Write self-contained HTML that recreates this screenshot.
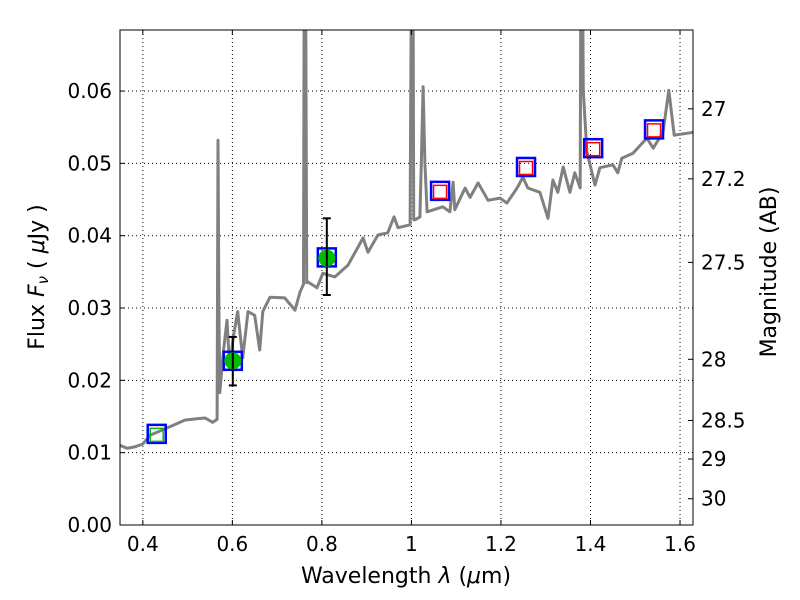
<!DOCTYPE html>
<html><head><meta charset="utf-8"><style>
body{margin:0;background:#fff;}
svg{display:block;font-family:"DejaVu Sans","Liberation Sans",sans-serif;}
</style></head><body>
<svg id="chart" width="800" height="600">
<g id="grid"></g>
<g id="spec"></g>
<g id="marks"></g>
<rect x="120" y="30" width="573" height="495" fill="none" stroke="#000" stroke-width="1"/>
<g id="axes"></g>
<text x="406" y="583" font-size="22" text-anchor="middle">Wavelength  <tspan font-style="italic">λ</tspan> (<tspan font-style="italic">μ</tspan>m)</text>
<text transform="translate(44,277) rotate(-90)" font-size="22" text-anchor="middle">Flux  <tspan font-style="italic">F<tspan font-size="15" dy="4">ν</tspan></tspan><tspan dy="-4">  (  </tspan><tspan font-style="italic">μ</tspan>Jy )</text>
<text transform="translate(776,272) rotate(-90)" font-size="22" text-anchor="middle">Magnitude (AB)</text>
</svg>
<script>
const specLam=[0.349,0.365,0.382,0.40,0.416,0.45,0.494,0.52,0.539,0.556,0.566,0.568,0.570,0.572,0.580,0.588,0.594,0.602,0.612,0.623,0.635,0.650,0.661,0.668,0.684,0.717,0.740,0.751,0.759,0.761,0.763,0.766,0.769,0.789,0.802,0.829,0.858,0.892,0.903,0.925,0.947,0.961,0.970,0.997,1.001,1.003,1.005,1.008,1.019,1.022,1.026,1.030,1.035,1.070,1.086,1.093,1.097,1.120,1.131,1.149,1.171,1.198,1.213,1.236,1.249,1.260,1.287,1.305,1.316,1.327,1.339,1.354,1.365,1.377,1.379,1.381,1.384,1.392,1.410,1.421,1.450,1.461,1.470,1.495,1.526,1.540,1.562,1.575,1.587,1.630];
const specFlux=[0.0110,0.0106,0.0108,0.0112,0.0124,0.0133,0.0145,0.0147,0.0148,0.0142,0.0146,0.0532,0.030,0.0183,0.024,0.0283,0.0217,0.0260,0.0295,0.0231,0.0295,0.0290,0.0242,0.0295,0.0315,0.0314,0.0297,0.0322,0.0333,0.09,0.09,0.0335,0.0336,0.0328,0.0348,0.0343,0.0359,0.0397,0.0377,0.0401,0.0404,0.0426,0.0411,0.0415,0.09,0.09,0.0422,0.0422,0.0426,0.050,0.0606,0.050,0.0433,0.0440,0.0433,0.0474,0.0436,0.0466,0.0453,0.0473,0.0449,0.0452,0.0445,0.0466,0.0481,0.0466,0.0460,0.0424,0.0477,0.0460,0.0495,0.0460,0.0487,0.0466,0.09,0.09,0.060,0.0516,0.0470,0.0494,0.0498,0.0487,0.0507,0.0514,0.0535,0.0521,0.0543,0.0601,0.0539,0.0543];
const photLam=[0.431,0.601,0.811,1.064,1.256,1.406,1.542];
const photFlux=[0.0126,0.0227,0.0370,0.0462,0.0495,0.0521,0.0547];
const modelIdx=[3,4,5,6];
const obsLam=[0.601,0.811];
const obsFlux=[0.0227,0.0369];
const obsLo=[0.0193,0.0318];
const obsHi=[0.0260,0.0424];
const xTicks=[0.4,0.6,0.8,1.0,1.2,1.4,1.6];
const xTickLabels=["0.4","0.6","0.8","1","1.2","1.4","1.6"];
const yTicks=[0,0.01,0.02,0.03,0.04,0.05,0.06];
const yTickLabels=["0.00","0.01","0.02","0.03","0.04","0.05","0.06"];
const magTicks=[27,27.2,27.5,28,28.5,29,30];
const magTickLabels=["27","27.2","27.5","28","28.5","29","30"];

const X0=120,X1=693,Y0=525,Y1=30,LMIN=0.349,LMAX=1.629,FMIN=0,FMAX=0.06844;
const sx=l=>X0+(l-LMIN)/(LMAX-LMIN)*(X1-X0);
const sy=f=>Y0-(f-FMIN)/(FMAX-FMIN)*(Y0-Y1);
const NS="http://www.w3.org/2000/svg";
function mk(parent,tag,attrs){const e=document.createElementNS(NS,tag);for(const k in attrs)e.setAttribute(k,attrs[k]);parent.appendChild(e);return e;}
const grid=document.getElementById('grid'),axes=document.getElementById('axes'),spec=document.getElementById('spec'),marks=document.getElementById('marks');

xTicks.forEach((t,i)=>{const x=sx(t);
 const g=mk(grid,'line',{x1:x,x2:x,y1:Y1,y2:Y0,stroke:'#000','stroke-dasharray':'1,3','stroke-width':1});
 
 
 mk(axes,'line',{x1:x,x2:x,y1:Y0,y2:Y0-5,stroke:'#000'});
 mk(axes,'line',{x1:x,x2:x,y1:Y1,y2:Y1+5,stroke:'#000'});
 const tx=mk(axes,'text',{x:x,y:Y0+26,'font-size':20,'text-anchor':'middle'});tx.textContent=xTickLabels[i];
 
 
});
yTicks.forEach((t,i)=>{const y=sy(t);
 const g=mk(grid,'line',{x1:X0,x2:X1,y1:y,y2:y,stroke:'#000','stroke-dasharray':'1,3','stroke-width':1});
 
 
 mk(axes,'line',{x1:X0,x2:X0+5,y1:y,y2:y,stroke:'#000'});
 const tx=mk(axes,'text',{x:X0-8,y:y+7,'font-size':20,'text-anchor':'end'});tx.textContent=yTickLabels[i];
 
 
});
magTicks.forEach((m,i)=>{const f=Math.pow(10,(23.9-m)/2.5);const y=sy(f);
 mk(axes,'line',{x1:X1-5,x2:X1,y1:y,y2:y,stroke:'#000'});
 const tx=mk(axes,'text',{x:X1+8,y:y+7,'font-size':20});tx.textContent=magTickLabels[i];
 
 
});
const defs=mk(document.getElementById('chart'),'defs',{});
const cp=mk(defs,'clipPath',{id:'clip'});mk(cp,'rect',{x:X0,y:Y1,width:X1-X0,height:Y0-Y1});
let d=specLam.map((l,i)=>(i?'L':'M')+sx(l).toFixed(1)+','+sy(specFlux[i]).toFixed(1)).join('');
const p=mk(spec,'path',{d:d,fill:'none',stroke:'#808080','stroke-width':3,'clip-path':'url(#clip)','stroke-linejoin':'round'});



photLam.forEach((l,i)=>{const x=sx(l),y=sy(photFlux[i]);
 const r=mk(marks,'rect',{x:x-9,y:y-9,width:18,height:18,fill:'none',stroke:'#0000ff','stroke-width':2.5});
 
 
 const col=modelIdx.includes(i)?'#ff0000':'#00bb00';
 if(i===0||modelIdx.includes(i)){const q=mk(marks,'rect',{x:x-6.5,y:y-5.5,width:13,height:13,fill:'none',stroke:col,'stroke-width':1.5});
  
  }
});
obsLam.forEach((l,i)=>{const x=sx(l);
 mk(marks,'line',{x1:x,x2:x,y1:sy(obsLo[i]),y2:sy(obsHi[i]),stroke:'#000','stroke-width':2});
 mk(marks,'line',{x1:x-4,x2:x+4,y1:sy(obsLo[i]),y2:sy(obsLo[i]),stroke:'#000','stroke-width':2});
 mk(marks,'line',{x1:x-4,x2:x+4,y1:sy(obsHi[i]),y2:sy(obsHi[i]),stroke:'#000','stroke-width':2});
 const c=mk(marks,'circle',{cx:x,cy:sy(obsFlux[i]),r:8.5,fill:'#00bb00'});
 
 
 mk(marks,'line',{x1:x,x2:x,y1:sy(obsFlux[i])-8,y2:sy(obsFlux[i])+8,stroke:'#000','stroke-width':2});
});
</script>
</body></html>
